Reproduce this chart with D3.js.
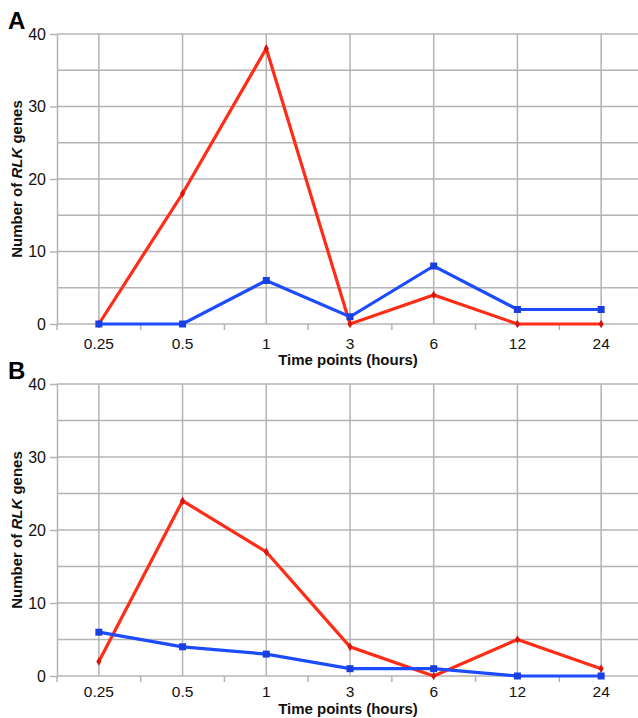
<!DOCTYPE html>
<html>
<head>
<meta charset="utf-8">
<script src="https://cdn.jsdelivr.net/npm/d3@7"></script>
<style>
  body { margin: 0; background: #fff; }
  svg { font-family: "Liberation Sans", Arial, sans-serif; }
</style>
</head>
<body>
<div id="chart"></div>
<script>
// data
var timePoints = ["0.25", "0.5", "1", "3", "6", "12", "24"];
var yTicks = [0, 10, 20, 30, 40];

var redA = [0, 18, 38, 0, 4, 0, 0];
var blueA = [0, 0, 6, 1, 8, 2, 2];
var redB = [2, 24, 17, 4, 0, 5, 1];
var blueB = [6, 4, 3, 1, 1, 0, 0];

var width = 638,
    height = 718;

var svg = d3.select("#chart")
    .append("svg")
    .attr("width", width)
    .attr("height", height);

var x = d3.scaleBand()
    .domain(timePoints)
    .range([57, 643]);

function drawPanel(letter, top, bottom, red, blue, labelDy, titleDy) {
    var y = d3.scaleLinear().domain([0, 40]).range([bottom, top]);
    var g = svg.append("g");

    // horizontal grid, every 5
    g.selectAll(".hgrid")
        .data(d3.range(5, 45, 5))
        .enter().append("line")
        .attr("x1", 57).attr("x2", 643)
        .attr("y1", (d) => y(d)).attr("y2", (d) => y(d))
        .attr("stroke", "#b4b4b4")
        .attr("stroke-width", 1.5);

    // vertical grid at category centres
    g.selectAll(".vgrid")
        .data(timePoints)
        .enter().append("line")
        .attr("x1", (d) => x(d) + x.bandwidth() / 2)
        .attr("x2", (d) => x(d) + x.bandwidth() / 2)
        .attr("y1", top).attr("y2", bottom)
        .attr("stroke", "#b4b4b4")
        .attr("stroke-width", 1.5);

    // y axis
    var yAxis = g.append("g")
        .attr("transform", "translate(57,0)")
        .call(d3.axisLeft(y).tickValues(yTicks).tickSize(7).tickSizeOuter(0));
    yAxis.select(".domain").attr("stroke", "#b4b4b4").attr("stroke-width", 1.5);
    yAxis.selectAll(".tick line").attr("stroke", "#b4b4b4").attr("stroke-width", 1.5);
    yAxis.selectAll(".tick text")
        .attr("font-size", 16).attr("fill", "#111")
        .attr("x", -11);

    // x axis, ticks between categories
    var xb = g.append("g").attr("transform", "translate(0," + bottom + ")");
    xb.append("line")
        .attr("x1", 57).attr("x2", 643)
        .attr("stroke", "#b4b4b4").attr("stroke-width", 1.5);
    xb.selectAll(".xtick")
        .data(timePoints)
        .enter().append("line")
        .attr("x1", (d) => x(d)).attr("x2", (d) => x(d))
        .attr("y1", 0).attr("y2", 6)
        .attr("stroke", "#b4b4b4").attr("stroke-width", 1.5);
    xb.selectAll(".xlab")
        .data(timePoints)
        .enter().append("text")
        .attr("x", (d) => x(d) + x.bandwidth() / 2)
        .attr("y", labelDy)
        .attr("text-anchor", "middle")
        .attr("font-size", 15.5)
        .attr("fill", "#111")
        .text((d) => d);
    xb.append("text")
        .attr("x", 348).attr("y", titleDy)
        .attr("text-anchor", "middle")
        .attr("font-size", 15).attr("font-weight", "bold")
        .attr("fill", "#111")
        .text("Time points (hours)");

    // y title
    var yt = g.append("text")
        .attr("transform", "translate(22," + ((top + bottom) / 2) + ") rotate(-90)")
        .attr("text-anchor", "middle")
        .attr("font-size", 15).attr("font-weight", "bold")
        .attr("fill", "#111");
    yt.append("tspan").text("Number of ");
    yt.append("tspan").attr("font-style", "italic").text("RLK");
    yt.append("tspan").text(" genes");

    // panel letter
    g.append("text")
        .attr("x", 8).attr("y", top - 5)
        .attr("font-size", 24).attr("font-weight", "bold")
        .attr("fill", "#000")
        .text(letter);

    var line = d3.line()
        .x((d, i) => x(timePoints[i]) + x.bandwidth() / 2)
        .y((d) => y(d));

    g.append("path")
        .datum(red)
        .attr("d", line)
        .attr("fill", "none")
        .attr("stroke", "#ff2d17")
        .attr("stroke-width", 3.2);

    g.append("path")
        .datum(blue)
        .attr("d", line)
        .attr("fill", "none")
        .attr("stroke", "#1d4cff")
        .attr("stroke-width", 3.2);

    // red diamond markers
    g.selectAll(".rm")
        .data(red)
        .enter().append("path")
        .attr("d", d3.symbol().type(d3.symbolDiamond).size(22))
        .attr("transform", (d, i) => "translate(" + (x(timePoints[i]) + x.bandwidth() / 2) + "," + y(d) + ")")
        .attr("fill", "#d4160e");

    // blue square markers
    g.selectAll(".bm")
        .data(blue)
        .enter().append("rect")
        .attr("x", (d, i) => x(timePoints[i]) + x.bandwidth() / 2 - 3.5)
        .attr("y", (d) => y(d) - 3.5)
        .attr("width", 7).attr("height", 7)
        .attr("fill", "#1a3fe0");
}

drawPanel("A", 34, 324, redA, blueA, 25, 41);
drawPanel("B", 384, 676, redB, blueB, 21, 38);
</script>
</body>
</html>
